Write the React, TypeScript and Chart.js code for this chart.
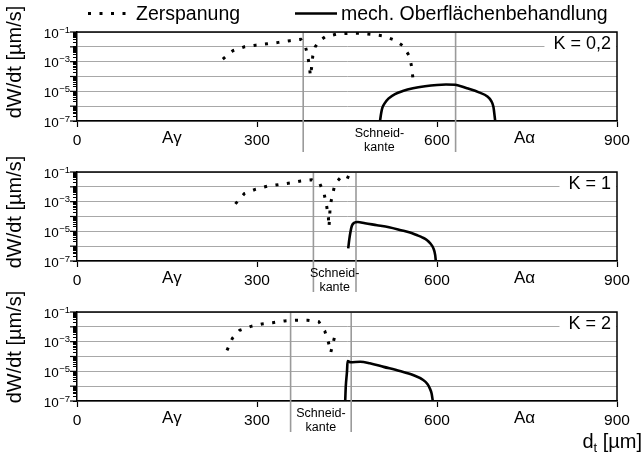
import React, { useEffect, useRef } from "react";
import { Chart, registerables } from "chart.js";

Chart.register(...registerables);

const FONT = "'Liberation Sans', Arial, Helvetica, sans-serif";
const W = 643;
const H = 455;

// ---------- text ----------
const seriesNames = ["Zerspanung", "mech. Oberflächenbehandlung"];
const panelLabels = ["K = 0,2", "K = 1", "K = 2"];
const yTitle = "dW/dt [µm/s]";
const xTitleMain = "d";
const xTitleSub = "t";
const xTitleUnit = " [µm]";
const edgeLabelLines = ["Schneid-", "kante"];
const regionLabels = ["Aγ", "Aα"];
const regionLabelX = [158, 746];

// ---------- axes ----------
const xMin = 0;
const xMax = 900;
const xStep = 300;
const decadeExponents = [-7, -6, -5, -4, -3, -2, -1];
const minorMultipliers = [1, 2, 3, 4, 5, 6, 7, 8, 9];
const yLabelExponents = [-7, -5, -3, -1];

// cutting edge (Schneidkante) boundaries per panel, µm
const cuttingEdges = [
  [377, 631],
  [394, 465],
  [356, 457],
];

// ---------- data: K = 0,2 ----------
const zerspanungX_K02 = [243, 260, 279, 298, 317, 336, 355, 373, 380, 384, 387, 389, 391, 393, 397, 404, 414, 434, 454, 473, 492, 511, 529, 543, 554, 558, 560];
const zerspanungY_K02 = [1.5e-3, 5.5e-3, 1.0e-2, 1.3e-2, 1.6e-2, 2.0e-2, 2.6e-2, 3.2e-2, 1.3e-2, 3.2e-3, 6.3e-4, 1.1e-4, 4.0e-4, 2.5e-3, 1.0e-2, 2.5e-2, 4.8e-2, 7.4e-2, 8.1e-2, 8.1e-2, 6.9e-2, 5.4e-2, 2.9e-2, 1.2e-2, 2.4e-3, 4.0e-4, 6.5e-5];
const mechX_K02 = [505, 507, 509, 513, 519, 530, 543, 560, 580, 600, 615, 630, 650, 670, 684, 690, 694, 697];
const mechY_K02 = [1e-7, 3.5e-7, 8e-7, 1.6e-6, 3.2e-6, 6.5e-6, 1.05e-5, 1.6e-5, 2.2e-5, 2.7e-5, 2.9e-5, 2.8e-5, 1.6e-5, 8.5e-6, 4.5e-6, 2.4e-6, 9e-7, 1e-7];

// ---------- data: K = 1 ----------
const zerspanungX_K1 = [264, 279, 298, 317, 336, 355, 373, 391, 405, 412, 416, 419, 420, 421, 422, 426, 430, 443, 456];
const zerspanungY_K1 = [7.1e-4, 3.5e-3, 6.9e-3, 1.1e-2, 1.4e-2, 1.8e-2, 2.5e-2, 3.0e-2, 1.55e-2, 3.2e-3, 5.4e-4, 8.7e-5, 2.0e-5, 8.7e-5, 5.4e-4, 3.2e-3, 1.55e-2, 6.3e-2, 3.7e-2];
const mechX_K1 = [452, 454, 456, 458, 462, 468, 480, 500, 520, 540, 555, 566, 576, 583, 589, 594, 597, 598];
const mechY_K1 = [7.1e-7, 3.2e-6, 1.0e-5, 2.3e-5, 3.8e-5, 4.3e-5, 3.5e-5, 2.6e-5, 1.9e-5, 1.2e-5, 8.3e-6, 5.6e-6, 3.8e-6, 2.6e-6, 1.5e-6, 7.1e-7, 2.5e-7, 1e-7];

// ---------- data: K = 2 ----------
const zerspanungX_K2 = [250, 259, 271, 290, 308, 326, 346, 365, 384, 403, 413, 419, 423, 427, 432];
const zerspanungY_K2 = [2.6e-4, 1.7e-3, 5.8e-3, 1.07e-2, 1.55e-2, 1.9e-2, 2.5e-2, 2.8e-2, 2.8e-2, 2.2e-2, 5.2e-3, 9.1e-4, 1.9e-4, 9.1e-4, 5.2e-3];
const mechX_K2 = [447, 448, 450, 451, 456, 472, 488, 511, 538, 560, 577, 584, 588, 591, 593];
const mechY_K2 = [1e-7, 1e-6, 1e-5, 5.0e-5, 4.1e-5, 4.4e-5, 3.5e-5, 2.0e-5, 1.05e-5, 5.6e-6, 2.6e-6, 1.4e-6, 7.1e-7, 3.2e-7, 1e-7];

type PanelDef = {
  label: string;
  edges: number[];
  zx: number[];
  zy: number[];
  mx: number[];
  my: number[];
  top: number;
  bottom: number;
  titleY: number;
  legend: boolean;
  xTitle: boolean;
};

const panelDefs: PanelDef[] = [
  { label: panelLabels[0], edges: cuttingEdges[0], zx: zerspanungX_K02, zy: zerspanungY_K02, mx: mechX_K02, my: mechY_K02, top: 32, bottom: 121, titleY: 62, legend: true, xTitle: false },
  { label: panelLabels[1], edges: cuttingEdges[1], zx: zerspanungX_K1, zy: zerspanungY_K1, mx: mechX_K1, my: mechY_K1, top: 172, bottom: 261, titleY: 212, legend: false, xTitle: false },
  { label: panelLabels[2], edges: cuttingEdges[2], zx: zerspanungX_K2, zy: zerspanungY_K2, mx: mechX_K2, my: mechY_K2, top: 312, bottom: 401, titleY: 347, legend: false, xTitle: true },
];

const yTickValues: number[] = [];
decadeExponents.forEach((e) => {
  if (e === decadeExponents[decadeExponents.length - 1]) {
    yTickValues.push(Math.pow(10, e));
  } else {
    minorMultipliers.forEach((m) => yTickValues.push(m * Math.pow(10, e)));
  }
});

const isDecade = (v: number) => {
  const l = Math.log10(v);
  return Math.abs(l - Math.round(l)) < 1e-6;
};

const toPoints = (xs: number[], ys: number[]) => xs.map((x, i) => ({ x, y: ys[i] }));

function makeDecor(def: PanelDef) {
  return {
    id: "decor",
    beforeDatasetsDraw(chart: any) {
      const { ctx, chartArea: a, scales } = chart;
      const x = scales.x;
      ctx.save();
      ctx.strokeStyle = "#9a9a9a";
      ctx.lineWidth = 1.6;
      def.edges.forEach((v) => {
        const px = x.getPixelForValue(v);
        ctx.beginPath();
        ctx.moveTo(px, a.top);
        ctx.lineTo(px, a.bottom + 31);
        ctx.stroke();
      });
      ctx.restore();
    },
    afterDraw(chart: any) {
      const { ctx, chartArea: a, scales } = chart;
      const x = scales.x;
      const y = scales.y;
      ctx.save();

      // top & right frame
      ctx.strokeStyle = "#000";
      ctx.lineWidth = 1.5;
      ctx.beginPath();
      ctx.moveTo(a.left, a.top);
      ctx.lineTo(a.right, a.top);
      ctx.lineTo(a.right, a.bottom);
      ctx.stroke();

      // longer major ticks on y
      ctx.lineWidth = 1.2;
      decadeExponents.forEach((e) => {
        const py = y.getPixelForValue(Math.pow(10, e));
        ctx.beginPath();
        ctx.moveTo(a.left - 7, py);
        ctx.lineTo(a.left, py);
        ctx.stroke();
      });

      // K label with white backing
      ctx.font = `18px ${FONT}`;
      const ky = y.getPixelForValue(1e-2);
      const tw = ctx.measureText(def.label).width;
      const tr = a.right - 6;
      ctx.fillStyle = "#fff";
      ctx.fillRect(tr - tw - 9, ky - 3, a.right - 1 - (tr - tw - 9), 6);
      ctx.fillStyle = "#000";
      ctx.textAlign = "right";
      ctx.textBaseline = "alphabetic";
      ctx.fillText(def.label, tr, ky + 2.5);

      // y tick labels 10^e
      yLabelExponents.forEach((e) => {
        const py = y.getPixelForValue(Math.pow(10, e));
        const es = "\u2212" + Math.abs(e);
        ctx.font = `9.5px ${FONT}`;
        const ew = ctx.measureText(es).width;
        ctx.textAlign = "right";
        ctx.fillText(es, 70, py + 0.5);
        ctx.font = `13.5px ${FONT}`;
        ctx.fillText("10", 70 - ew - 0.5, py + 5.5);
      });

      // region labels
      ctx.font = `17px ${FONT}`;
      ctx.textAlign = "center";
      regionLabels.forEach((t, i) => {
        ctx.fillText(t, x.getPixelForValue(regionLabelX[i]), a.bottom + 22);
      });

      // cutting edge label
      const mid = x.getPixelForValue((def.edges[0] + def.edges[1]) / 2);
      ctx.font = `12.5px ${FONT}`;
      ctx.fillText(edgeLabelLines[0], mid, a.bottom + 16);
      ctx.fillText(edgeLabelLines[1], mid, a.bottom + 30);

      // y title
      ctx.save();
      ctx.translate(15, def.titleY);
      ctx.rotate(-Math.PI / 2);
      ctx.font = `20px ${FONT}`;
      ctx.textAlign = "center";
      ctx.textBaseline = "middle";
      ctx.fillText(yTitle, 0, 0);
      ctx.restore();

      // legend
      if (def.legend) {
        const ds = chart.data.datasets;
        const items = [
          { x0: 88, x1: 130, tx: 136 },
          { x0: 295, x1: 337, tx: 341 },
        ];
        items.forEach((it, i) => {
          const d = ds[i];
          ctx.strokeStyle = d.borderColor;
          ctx.lineWidth = d.borderWidth;
          ctx.lineCap = "butt";
          ctx.setLineDash(d.borderDash || []);
          ctx.beginPath();
          ctx.moveTo(it.x0, 13.5);
          ctx.lineTo(it.x1, 13.5);
          ctx.stroke();
          ctx.setLineDash([]);
          ctx.font = `19.5px ${FONT}`;
          ctx.textAlign = "left";
          ctx.textBaseline = "alphabetic";
          ctx.fillStyle = "#000";
          ctx.fillText(d.label, it.tx, 19.5);
        });
      }

      // x title
      if (def.xTitle) {
        ctx.textAlign = "left";
        ctx.textBaseline = "alphabetic";
        ctx.font = `20px ${FONT}`;
        const wD = ctx.measureText(xTitleMain).width;
        const wU = ctx.measureText(xTitleUnit).width;
        ctx.font = `13px ${FONT}`;
        const wT = ctx.measureText(xTitleSub).width;
        let xx = 642 - (wD + wT + wU);
        ctx.font = `20px ${FONT}`;
        ctx.fillText(xTitleMain, xx, 448);
        xx += wD;
        ctx.font = `13px ${FONT}`;
        ctx.fillText(xTitleSub, xx, 452);
        xx += wT;
        ctx.font = `20px ${FONT}`;
        ctx.fillText(xTitleUnit, xx, 448);
      }

      ctx.restore();
    },
  };
}

function Panel({ def }: { def: PanelDef }) {
  const ref = useRef<HTMLCanvasElement | null>(null);
  useEffect(() => {
    if (!ref.current) return;
    const chart = new Chart(ref.current, {
      type: "scatter",
      data: {
        datasets: [
          {
            label: seriesNames[0],
            data: toPoints(def.zx, def.zy),
            showLine: true,
            borderColor: "#000",
            backgroundColor: "#000",
            borderWidth: 3,
            borderDash: [3, 8.5],
            borderCapStyle: "butt",
            pointRadius: 0,
            fill: false,
          } as any,
          {
            label: seriesNames[1],
            data: toPoints(def.mx, def.my),
            showLine: true,
            borderColor: "#000",
            backgroundColor: "#000",
            borderWidth: 2.6,
            pointRadius: 0,
            cubicInterpolationMode: "monotone",
            fill: false,
          } as any,
        ],
      },
      options: {
        animation: false,
        responsive: false,
        maintainAspectRatio: false,
        devicePixelRatio: 1,
        events: [],
        layout: { padding: { top: def.top, right: W - 617, bottom: H - def.bottom - 30, left: 0 } },
        plugins: { legend: { display: false }, tooltip: { enabled: false }, title: { display: false } },
        scales: {
          x: {
            type: "linear",
            min: xMin,
            max: xMax,
            ticks: { stepSize: xStep, color: "#000", font: { family: FONT, size: 15.5 }, padding: 4, maxRotation: 0, autoSkip: false },
            grid: { drawOnChartArea: false, color: "#000", tickColor: "#000", tickLength: 6, tickWidth: 1.2 },
            border: { color: "#000", width: 1.5 },
            afterFit: (s: any) => {
              s.height = 30;
            },
          },
          y: {
            type: "logarithmic",
            min: Math.pow(10, decadeExponents[0]),
            max: Math.pow(10, decadeExponents[decadeExponents.length - 1]),
            afterBuildTicks: (s: any) => {
              s.ticks = yTickValues.map((v) => ({ value: v, major: isDecade(v) }));
            },
            ticks: { display: false },
            grid: {
              color: (c: any) => (c.tick && isDecade(c.tick.value) ? "#a8a8a8" : "rgba(0,0,0,0)"),
              lineWidth: 1,
              tickColor: "#000",
              tickLength: 4,
              tickWidth: 1,
            },
            border: { color: "#000", width: 1.5 },
            afterFit: (s: any) => {
              s.width = 77;
            },
          },
        },
      } as any,
      plugins: [makeDecor(def)],
    });
    return () => chart.destroy();
  }, [def]);
  return <canvas ref={ref} width={W} height={H} style={{ position: "absolute", left: 0, top: 0, width: W, height: H }} />;
}

export default function App() {
  return (
    <div style={{ position: "absolute", left: 0, top: 0, width: W, height: H, background: "#fff", overflow: "hidden" }}>
      {panelDefs.map((d, i) => (
        <Panel key={i} def={d} />
      ))}
    </div>
  );
}
